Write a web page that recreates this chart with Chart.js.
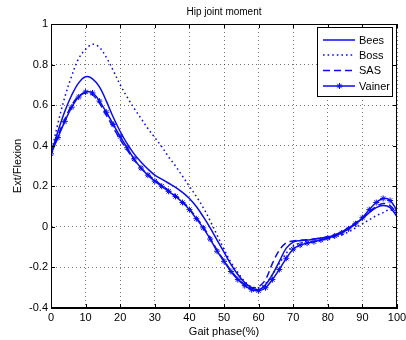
<!DOCTYPE html>
<html><head><meta charset="utf-8">
<script src="https://cdn.jsdelivr.net/npm/chart.js@4"></script>
<style>html,body{margin:0;padding:0;background:#fff;}canvas{display:block;}</style>
</head><body>
<canvas id="c" width="406" height="340"></canvas>
<script>
const gaitPhase = [0,2,4,6,8,10,12,14,16,18,20,22,24,26,28,30,32,34,36,38,40,42,44,46,48,50,52,54,56,58,60,62,64,66,68,70,72,74,76,78,80,82,84,86,88,90,92,94,96,98,100];
const bees = [0.36,0.47,0.57,0.65,0.71,0.74,0.73,0.69,0.62,0.54,0.47,0.41,0.36,0.32,0.285,0.255,0.235,0.215,0.195,0.17,0.14,0.10,0.05,-0.005,-0.065,-0.125,-0.185,-0.235,-0.275,-0.30,-0.31,-0.285,-0.235,-0.17,-0.105,-0.075,-0.068,-0.065,-0.06,-0.055,-0.05,-0.04,-0.025,-0.005,0.015,0.04,0.07,0.095,0.105,0.095,0.05];
const boss = [0.36,0.51,0.64,0.745,0.83,0.875,0.90,0.885,0.835,0.77,0.70,0.64,0.585,0.535,0.485,0.44,0.395,0.345,0.30,0.25,0.20,0.15,0.095,0.03,-0.04,-0.11,-0.175,-0.225,-0.27,-0.295,-0.30,-0.28,-0.235,-0.18,-0.13,-0.095,-0.08,-0.075,-0.07,-0.065,-0.06,-0.05,-0.04,-0.025,-0.005,0.015,0.035,0.055,0.07,0.085,0.065];
const sas = [0.36,0.45,0.53,0.60,0.645,0.66,0.65,0.61,0.55,0.49,0.43,0.38,0.33,0.29,0.26,0.23,0.205,0.18,0.155,0.125,0.09,0.045,0.0,-0.055,-0.115,-0.165,-0.215,-0.255,-0.285,-0.30,-0.295,-0.26,-0.18,-0.115,-0.078,-0.07,-0.066,-0.064,-0.06,-0.055,-0.05,-0.04,-0.025,-0.005,0.02,0.045,0.075,0.10,0.115,0.105,0.065];
const vainer = [0.36,0.44,0.52,0.59,0.64,0.665,0.66,0.62,0.565,0.505,0.445,0.39,0.335,0.29,0.255,0.225,0.20,0.175,0.15,0.12,0.085,0.04,-0.005,-0.06,-0.12,-0.17,-0.22,-0.26,-0.29,-0.31,-0.315,-0.30,-0.26,-0.21,-0.155,-0.11,-0.09,-0.08,-0.073,-0.065,-0.055,-0.045,-0.03,-0.01,0.015,0.045,0.085,0.12,0.14,0.13,0.08];
const seriesNames = ['Bees','Boss','SAS','Vainer'];
const xTicks = [0,10,20,30,40,50,60,70,80,90,100];
const yTicks = [-0.4,-0.2,0,0.2,0.4,0.6,0.8,1];

const BLUE = 'rgb(10,10,245)';
const FONT = 'Liberation Sans, Arial, sans-serif';
const pts = arr => gaitPhase.map((x, i) => ({x: x, y: arr[i]}));

const styles = [
  {dash: [], marker: false},
  {dash: [1.6, 3], marker: false},
  {dash: [7, 4], marker: false},
  {dash: [], marker: true}
];

const boxPlugin = {
  id: 'boxPlugin',
  afterDatasetsDraw(chart) {
    const ctx = chart.ctx;
    const a = chart.chartArea;
    const xs = chart.scales.x, ys = chart.scales.y;
    ctx.save();
    ctx.strokeStyle = '#000';
    ctx.lineWidth = 1;
    ctx.setLineDash([]);
    ctx.strokeRect(Math.round(a.left) + 0.5, Math.round(a.top) + 0.5, Math.round(a.right - a.left) - 1, Math.round(a.bottom - a.top) - 1);
    ctx.beginPath();
    xTicks.forEach(v => {
      const px = Math.round(xs.getPixelForValue(v)) + 0.5;
      ctx.moveTo(px, a.bottom); ctx.lineTo(px, a.bottom - 4);
      ctx.moveTo(px, a.top); ctx.lineTo(px, a.top + 4);
    });
    yTicks.forEach(v => {
      const py = Math.round(ys.getPixelForValue(v)) + 0.5;
      ctx.moveTo(a.left, py); ctx.lineTo(a.left + 4, py);
      ctx.moveTo(a.right, py); ctx.lineTo(a.right - 4, py);
    });
    ctx.stroke();

    // legend
    const lx = 317.5, ly = 27.5, lw = 75, lh = 69;
    ctx.fillStyle = '#fff';
    ctx.fillRect(lx, ly, lw, lh);
    ctx.strokeStyle = '#000';
    ctx.strokeRect(lx, ly, lw, lh);
    const rows = [40, 55, 70.5, 86];
    ctx.font = '11px ' + FONT;
    ctx.textBaseline = 'middle';
    ctx.textAlign = 'left';
    seriesNames.forEach((name, i) => {
      const y = rows[i];
      ctx.strokeStyle = BLUE;
      ctx.lineWidth = 1.5;
      ctx.setLineDash(styles[i].dash);
      ctx.beginPath();
      ctx.moveTo(323, y); ctx.lineTo(355, y);
      ctx.stroke();
      ctx.setLineDash([]);
      if (styles[i].marker) {
        ctx.lineWidth = 1;
        ctx.beginPath();
        const cx = 339.5, r = 3;
        ctx.moveTo(cx - r, y); ctx.lineTo(cx + r, y);
        ctx.moveTo(cx, y - r); ctx.lineTo(cx, y + r);
        ctx.moveTo(cx - 2.2, y - 2.2); ctx.lineTo(cx + 2.2, y + 2.2);
        ctx.moveTo(cx - 2.2, y + 2.2); ctx.lineTo(cx + 2.2, y - 2.2);
        ctx.stroke();
      }
      ctx.fillStyle = '#000';
      ctx.fillText(name, 359, y + 0.5);
    });
    ctx.restore();
  }
};

new Chart(document.getElementById('c'), {
  type: 'line',
  data: {
    datasets: [bees, boss, sas, vainer].map((arr, i) => ({
      label: seriesNames[i],
      data: pts(arr),
      borderColor: BLUE,
      backgroundColor: BLUE,
      borderWidth: 1.5,
      borderDash: styles[i].dash,
      tension: 0.35,
      fill: false,
      pointRadius: styles[i].marker ? 3 : 0,
      pointStyle: 'star',
      pointBorderColor: BLUE,
      pointBorderWidth: 1
    }))
  },
  options: {
    responsive: false,
    animation: false,
    devicePixelRatio: 1,
    layout: {padding: {left: 0, right: 9, top: 0, bottom: 0}},
    plugins: {
      legend: {display: false},
      tooltip: {enabled: false},
      title: {
        display: true,
        fullSize: false,
        text: 'Hip joint moment',
        color: '#000',
        font: {family: FONT, size: 10, weight: 'normal'},
        padding: {top: 6, bottom: 6}
      }
    },
    scales: {
      x: {
        type: 'linear',
        min: 0, max: 100,
        afterBuildTicks: s => { s.ticks = xTicks.map(v => ({value: v})); },
        afterFit: s => { s.height = 32; s.paddingLeft = 0; s.paddingRight = 0; },
        ticks: {color: '#000', font: {family: FONT, size: 11}, padding: 3, maxRotation: 0, autoSkip: false},
        grid: {color: 'rgba(0,0,0,0.55)', lineWidth: 1, drawTicks: false},
        border: {color: '#000', width: 1, dash: [1, 3]},
        title: {display: true, text: 'Gait phase(%)', color: '#000', font: {family: FONT, size: 11}, padding: {top: 0, bottom: 1}}
      },
      y: {
        type: 'linear',
        min: -0.4, max: 1,
        afterBuildTicks: s => { s.ticks = yTicks.map(v => ({value: v})); },
        afterFit: s => { s.width = 51; s.paddingTop = 0; s.paddingBottom = 0; },
        ticks: {color: '#000', font: {family: FONT, size: 11}, padding: 3, autoSkip: false,
          callback: v => String(+(+v).toFixed(1))},
        grid: {color: 'rgba(0,0,0,0.55)', lineWidth: 1, drawTicks: false},
        border: {color: '#000', width: 1, dash: [1, 3]},
        title: {display: true, text: 'Ext/Flexion', color: '#000', font: {family: FONT, size: 11}, padding: {top: 11, bottom: 0}}
      }
    }
  },
  plugins: [boxPlugin]
});
</script>
</body></html>
